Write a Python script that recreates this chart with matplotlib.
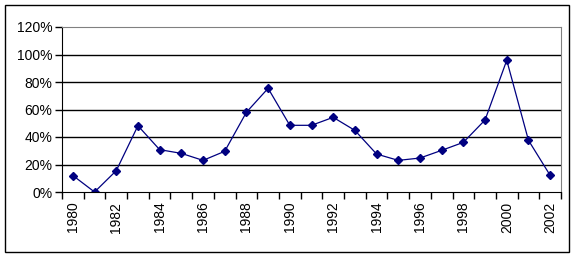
import matplotlib
matplotlib.use('Agg')
import matplotlib.pyplot as plt
from matplotlib.patches import Rectangle
import numpy as np

plt.rcParams['font.family'] = ['Liberation Sans', 'DejaVu Sans']

# data
years = list(range(1980, 2003))
values = [12, 0, 15.5, 48.2, 30.8, 28.1, 23, 29.6, 58, 75.4, 48.5,
          48.5, 54.3, 44.8, 27.6, 23, 24.7, 30.3, 36.1, 52.4, 95.8, 37.6, 12.1]
yticks = [0, 20, 40, 60, 80, 100, 120]

fig = plt.figure(figsize=(5.76, 2.57), dpi=100)
fig.patches.append(Rectangle((5 / 576, 5 / 257), 564 / 576, 247 / 257,
                             transform=fig.transFigure, fill=False,
                             edgecolor='black', linewidth=1))

ax = fig.add_axes([62 / 576, 65 / 257, 499 / 576, 165 / 257])
x = np.arange(len(years))
ax.plot(x, values, color='#000080', linewidth=0.9, marker='D',
        markersize=4.5, markerfacecolor='#000080', markeredgecolor='#000080')

ax.set_xlim(-0.5, len(years) - 0.5)
ax.set_ylim(0, 120)

ax.set_yticks(yticks)
ax.set_yticklabels([f'{v}%' for v in yticks], fontsize=10)
for v in yticks[1:-1]:
    ax.axhline(v, color='black', linewidth=1, zorder=0)

# tick marks between categories, labels every other year
ax.set_xticks(np.arange(-0.5, len(years), 1.0))
ax.set_xticklabels([])
ax.set_xticks(x[::2], minor=True)
ax.set_xticklabels([str(y) for y in years[::2]], minor=True,
                   rotation=90, fontsize=10)
ax.tick_params(axis='x', which='major', length=5, direction='out', width=1)
ax.tick_params(axis='x', which='minor', length=0, pad=7)
ax.tick_params(axis='y', length=5, direction='out', width=1, pad=2)

ax.spines['left'].set_color('black')
ax.spines['bottom'].set_color('black')
ax.spines['top'].set_color('#808080')
ax.spines['right'].set_color('#808080')

fig.savefig('out.png', dpi=100)
